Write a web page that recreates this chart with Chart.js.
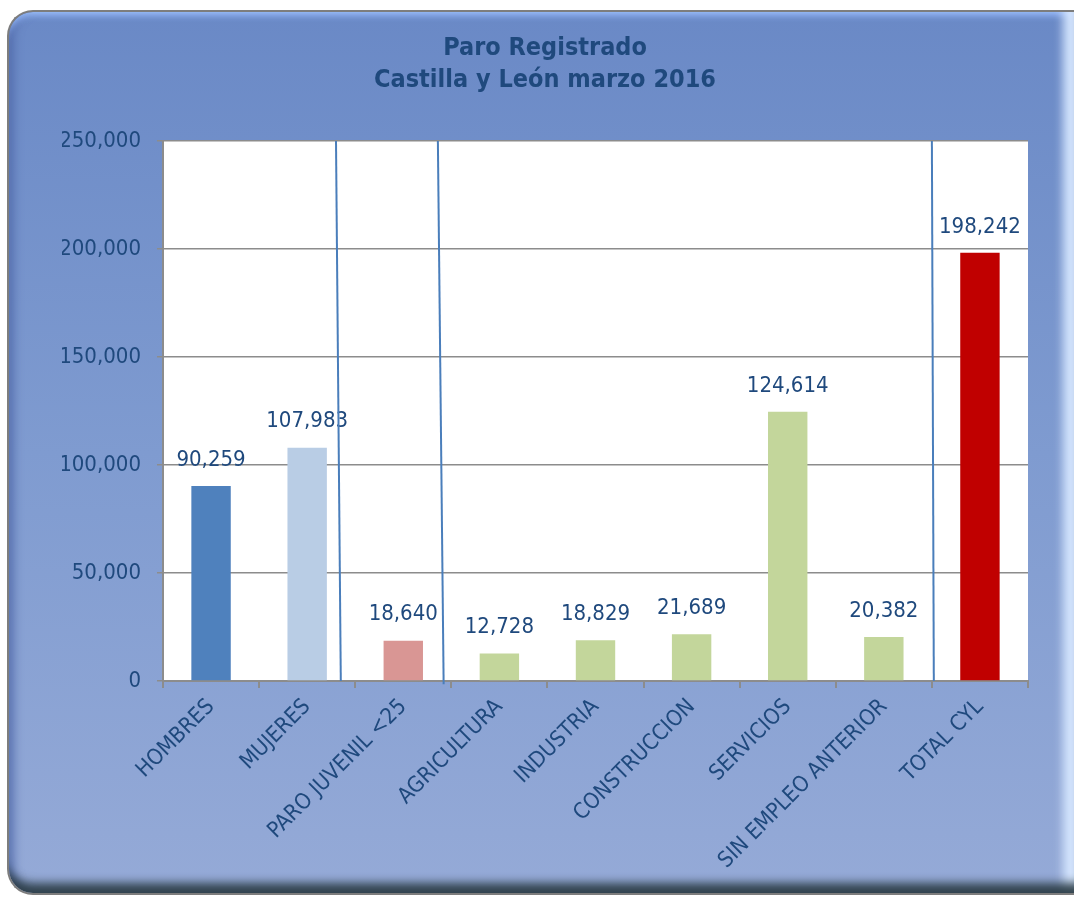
<!DOCTYPE html>
<html>
<head>
<meta charset="utf-8">
<script src="https://cdn.jsdelivr.net/npm/chart.js@4/dist/chart.umd.min.js"></script>
<style>
  html, body { margin: 0; padding: 0; background: #fff; }
  #frame {
    position: absolute; left: 7px; top: 10px; width: 1066px; height: 881px;
    border: 2px solid #7d7d7d; border-right: none; border-radius: 26px 0 0 26px;
    background: linear-gradient(to bottom, #6a89c6 0%, #7f9bd0 50%, #95aad7 100%);
    box-shadow: inset 0 -16px 10px -6px rgba(45, 62, 72, 0.95),
                inset -18px 0 10px -6px rgba(215, 232, 255, 0.95),
                inset 0 7px 6px -3px rgba(150, 185, 250, 0.9),
                inset 10px 0 10px -5px rgba(80, 105, 170, 0.8);
  }
  #wrap { position: absolute; left: 0; top: 0; width: 1074px; height: 897px; }
</style>
</head>
<body>
<div id="frame"></div>
<div id="wrap"><canvas id="chart" width="1074" height="897"></canvas></div>
<script>
const categories = ['HOMBRES', 'MUJERES', 'PARO JUVENIL <25', 'AGRICULTURA', 'INDUSTRIA',
                    'CONSTRUCCION', 'SERVICIOS', 'SIN EMPLEO ANTERIOR', 'TOTAL CYL'];
const values = [90259, 107983, 18640, 12728, 18829, 21689, 124614, 20382, 198242];
const barColors = ['#4f81bd', '#b9cde5', '#d99694', '#c3d69b', '#c3d69b',
                   '#c3d69b', '#c3d69b', '#c3d69b', '#c00000'];
const titleLines = ['Paro Registrado', 'Castilla y León marzo 2016'];

// hand drawn separator lines, in category units (top end / bottom end)
const sepTop = [1.30, 2.36, 7.50];
const sepBottom = [1.35, 2.42, 7.52];
const sepBottomValue = [0, -1500, 0];

const textColor = '#1f497d';
const fmt = v => v.toLocaleString('en-US');

const plotBackground = {
    id: 'plotBackground',
    beforeDraw(chart) {
        const { ctx, chartArea } = chart;
        ctx.save();
        ctx.fillStyle = '#ffffff';
        ctx.fillRect(chartArea.left, chartArea.top, chartArea.right - chartArea.left, chartArea.bottom - chartArea.top);
        ctx.restore();
    }
};

const barLabels = {
    id: 'barLabels',
    afterDatasetsDraw(chart) {
        const ctx = chart.ctx;
        const meta = chart.getDatasetMeta(0);
        ctx.save();
        ctx.fillStyle = textColor;
        ctx.font = '22px "DejaVu Sans Condensed", "DejaVu Sans", sans-serif';
        ctx.textAlign = 'center';
        ctx.textBaseline = 'middle';
        meta.data.forEach((bar, i) => {
            ctx.fillText(fmt(values[i]), bar.x, bar.y - 26);
        });
        ctx.restore();
    }
};

const separators = {
    id: 'separators',
    afterDraw(chart) {
        const { ctx, scales } = chart;
        ctx.save();
        ctx.strokeStyle = '#4a7ebb';
        ctx.lineWidth = 2;
        sepTop.forEach((t, i) => {
            ctx.beginPath();
            ctx.moveTo(scales.x.getPixelForValue(t), scales.y.getPixelForValue(250000));
            ctx.lineTo(scales.x.getPixelForValue(sepBottom[i]), scales.y.getPixelForValue(sepBottomValue[i]));
            ctx.stroke();
        });
        ctx.restore();
    }
};

new Chart(document.getElementById('chart').getContext('2d'), {
    type: 'bar',
    data: {
        labels: categories,
        datasets: [{
            data: values,
            backgroundColor: barColors,
            borderWidth: 0,
            barPercentage: 1,
            categoryPercentage: 0.41
        }]
    },
    options: {
        responsive: false,
        animation: false,
        layout: { padding: { left: 62, right: 46, top: 32, bottom: 0 } },
        plugins: {
            legend: { display: false },
            tooltip: { enabled: false },
            title: {
                display: true,
                text: titleLines,
                color: textColor,
                font: { family: '"DejaVu Sans Condensed", "DejaVu Sans", sans-serif', size: 25, weight: 'bold', lineHeight: 1.28 },
                padding: { top: 0, bottom: 45 }
            }
        },
        scales: {
            x: {
                afterFit: s => { s.height = 216; },
                grid: { drawOnChartArea: false, drawTicks: true, tickLength: 7, color: '#8c8c8c', lineWidth: 2, offset: true },
                border: { color: '#8c8c8c', width: 2 },
                ticks: {
                    color: textColor,
                    font: { family: '"DejaVu Sans Condensed", "DejaVu Sans", sans-serif', size: 22 },
                    minRotation: 45, maxRotation: 45,
                    padding: 6,
                    autoSkip: false
                }
            },
            y: {
                min: 0, max: 250000,
                afterFit: s => { s.width = 101; },
                grid: { color: '#8c8c8c', lineWidth: 1.5, tickLength: 6 },
                border: { color: '#8c8c8c', width: 2 },
                ticks: {
                    stepSize: 50000,
                    color: textColor,
                    font: { family: '"DejaVu Sans Condensed", "DejaVu Sans", sans-serif', size: 22 },
                    padding: 16,
                    callback: v => fmt(v)
                }
            }
        }
    },
    plugins: [plotBackground, barLabels, separators]
});
</script>
</body>
</html>
